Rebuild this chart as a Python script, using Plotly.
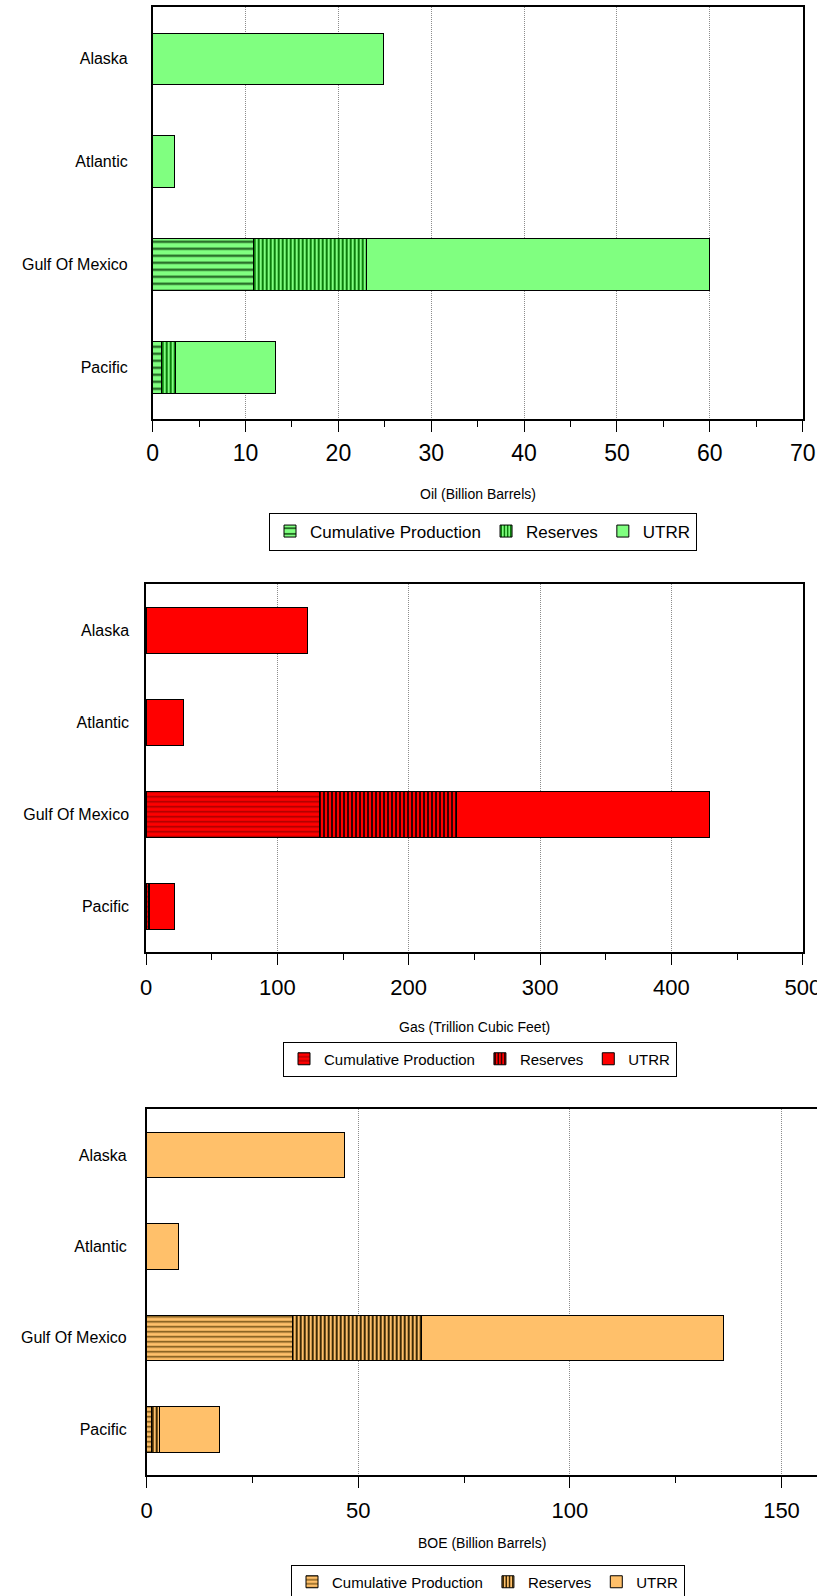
import plotly.graph_objects as go

regions = ["Alaska", "Atlantic", "Gulf Of Mexico", "Pacific"]
series_names = ["Cumulative Production", "Reserves", "UTRR"]

# Oil (Billion Barrels) - stacked segments
oil_cum = [None, None, 10.9, 0.9]
oil_res = [None, None, 12.1, 1.6]
oil_utrr = [24.9, 2.3, 37.0, 10.7]

# Gas (Trillion Cubic Feet)
gas_cum = [None, None, 132.4, 2.0]
gas_res = [None, None, 103.9, 1.0]
gas_utrr = [122.6, 28.3, 192.4, 18.5]

# BOE (Billion Barrels)
boe_cum = [None, None, 34.5, 1.2]
boe_res = [None, None, 30.5, 1.8]
boe_utrr = [46.7, 7.4, 71.3, 14.1]

oil_ticks = [0, 10, 20, 30, 40, 50, 60, 70]
gas_ticks = [0, 100, 200, 300, 400, 500]
boe_ticks = [0, 50, 100, 150]

FONT = "Liberation Sans, Arial, sans-serif"
W, H = 817, 1596

def px_x(v):
    return v / W

def px_y(v):
    return 1 - v / H

panels = [
    dict(data=(oil_cum, oil_res, oil_utrr), bg="#80FF80", fg_cum="#1d5c1d", fg_res="#0b7d0b",
         ax="", xdom=[152.7, 802.7], ytop=7.3, ybot=419, rng=[0, 70], minor=5,
         ticks=oil_ticks, tfont=23, tstand=2, title="Oil (Billion Barrels)", title_y=493.5, title_x=477.7,
         leg_mid=531.5, leg_x=483, leg_font=17, mirror_all=True, cum_size=7, res_size=4,
         standoff=20),
    dict(data=(gas_cum, gas_res, gas_utrr), bg="#FF0000", fg_cum="#a00000", fg_res="#3a0000",
         ax="2", xdom=[146.0, 802.8], ytop=584.3, ybot=952.3, rng=[0, 500], minor=50,
         ticks=gas_ticks, tfont=22, tstand=4, title="Gas (Trillion Cubic Feet)", title_y=1026.7, title_x=474.4,
         leg_mid=1059, leg_x=480, leg_font=15, mirror_all=True, cum_size=5, res_size=4,
         standoff=12),
    dict(data=(boe_cum, boe_res, boe_utrr), bg="#FFC06A", fg_cum="#6b4a10", fg_res="#3d2a05",
         ax="3", xdom=[146.7, 817.0], ytop=1109.3, ybot=1475, rng=[0, (817 - 146.7) / 4.232],
         minor=25, ticks=boe_ticks, tfont=22, tstand=4, title="BOE (Billion Barrels)",
         title_y=1542.5, title_x=482, leg_mid=1582, leg_x=488, leg_font=15, mirror_all=False,
         cum_size=5, res_size=4, standoff=15),
]

fig = go.Figure()
layout = dict(
    template="none",
    width=W, height=H, margin=dict(l=0, r=0, t=0, b=0, autoexpand=False),
    paper_bgcolor="white", plot_bgcolor="white",
    barmode="stack", bargap=0.5, showlegend=True,
    font=dict(family=FONT, color="black"),
)
annotations = []

for p in panels:
    ax = p["ax"]
    xname = "x" + ax
    yname = "y" + ax
    legname = "legend" + ax
    cum, res, utrr = p["data"]
    patterns = [
        dict(shape="-", fgcolor=p["fg_cum"], bgcolor=p["bg"], size=p["cum_size"], solidity=0.3, fillmode="replace"),
        dict(shape="|", fgcolor=p["fg_res"], bgcolor=p["bg"], size=p["res_size"], solidity=0.5, fillmode="replace"),
        None,
    ]
    for vals, name, pat in zip((cum, res, utrr), series_names, patterns):
        marker = dict(color=p["bg"], line=dict(color="black", width=1))
        if pat is not None:
            marker["pattern"] = pat
        fig.add_trace(go.Bar(
            y=regions, x=vals, orientation="h", name=name,
            marker=marker, xaxis=xname, yaxis=yname, legend=legname,
            hoverinfo="x+y+name",
        ))
    xkey = "xaxis" + ax
    ykey = "yaxis" + ax
    layout[xkey] = dict(
        domain=[px_x(p["xdom"][0]), px_x(p["xdom"][1])], anchor=yname,
        range=p["rng"], tickmode="array", tickvals=p["ticks"],
        ticktext=[str(t) for t in p["ticks"]],
        ticks="outside", ticklen=11, tickwidth=1, tickcolor="black",
        tickfont=dict(size=p["tfont"], family=FONT, color="black"),
        ticklabelstandoff=p["tstand"], ticklabeloverflow="allow",
        showline=True, linecolor="black", linewidth=1.5, mirror=True,
        showgrid=True, gridcolor="#8c8c8c", griddash="1px,1px", gridwidth=1,
        zeroline=False, fixedrange=True, automargin=False,
        minor=dict(dtick=p["minor"], tick0=0, ticklen=6, tickwidth=1, tickcolor="black",
                   ticks="outside", showgrid=False),
    )
    layout[ykey] = dict(
        domain=[px_y(p["ybot"]), px_y(p["ytop"])], anchor=xname,
        autorange="reversed", type="category",
        showline=True, linecolor="black", linewidth=1.5,
        mirror=True if p["mirror_all"] else False,
        ticks="", tickfont=dict(size=16, family=FONT, color="black"),
        showgrid=False, zeroline=False, fixedrange=True, automargin=False,
        ticklabelstandoff=p["standoff"],
    )
    layout[legname] = dict(
        orientation="h", x=px_x(p["leg_x"]), xanchor="center",
        y=px_y(p["leg_mid"]), yanchor="middle", xref="paper", yref="paper",
        bordercolor="black", borderwidth=1, bgcolor="white",
        font=dict(size=p["leg_font"], family=FONT, color="black"),
        itemwidth=30, tracegroupgap=0, traceorder="normal",
    )
    annotations.append(dict(
        text=p["title"], x=px_x(p["title_x"]), y=px_y(p["title_y"]),
        xref="paper", yref="paper", xanchor="center", yanchor="middle",
        showarrow=False, font=dict(size=14, family=FONT, color="black"),
    ))

layout["annotations"] = annotations
fig.update_layout(**layout)
fig.write_html("out.html", config={"displayModeBar": False},
               post_script="document.body.style.margin='0';")
